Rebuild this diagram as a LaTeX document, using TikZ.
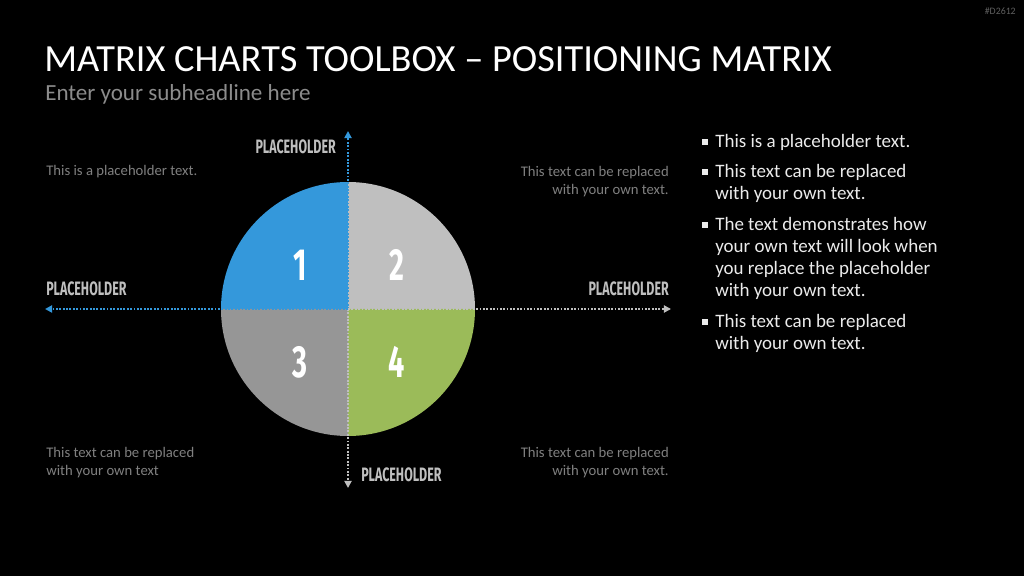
\documentclass[tikz,border=0pt]{standalone}
\usepackage{fontspec}
\setmainfont{Carlito}
\newfontfamily\condfont[FakeStretch=0.64]{Fira Sans}
\usetikzlibrary{arrows.meta, positioning}
\definecolor{cBlue}{RGB}{52,152,219}
\definecolor{cLight}{RGB}{191,191,191}
\definecolor{cMid}{RGB}{150,150,150}
\definecolor{cGreen}{RGB}{155,187,89}
\definecolor{cText}{RGB}{128,128,128}
\definecolor{cSub}{RGB}{140,140,140}
\definecolor{cTag}{RGB}{95,95,95}
\definecolor{cBody}{RGB}{235,235,235}
\tikzset{
	axislabel/.style ={font=\condfont\bfseries\fontsize{13.8}{15}\selectfont, text=cLight, inner sep=0pt},
	quadnum/.style   ={font=\condfont\bfseries\fontsize{32}{34}\selectfont, text=white, inner sep=0pt},
	cornertext/.style={font=\fontsize{10.45}{12.6}\selectfont, text=cText, inner sep=0pt},
	bodytext/.style  ={font=\fontsize{13.5}{15.7}\selectfont, text=cBody, inner sep=0pt, align=left, anchor=north west},
	bulletsq/.style  ={fill=cBody, minimum size=4.3pt, inner sep=0pt},
	% dotted axes
	axisline/.style  ={line width=1.3pt, dash pattern=on 1.3pt off 1.1pt, -{Triangle[length=5pt, width=5pt]}},
}

\begin{document}
\begin{tikzpicture}[x=0.025cm, y=-0.025cm]
	% ---------- background ----------
	\fill[black] (0,0) rectangle (1024,576);
	\useasboundingbox (0,0) rectangle (1024,576);
	% ---------- headline ----------
	\node[anchor=north east, font=\fontsize{7}{8}\selectfont, text=cTag, inner sep=0pt] (tag) at (1016,8) {\#D2612};
	\node[anchor=base west, font=\fontsize{27.3}{30}\selectfont, text=white, inner sep=0pt] (title) at (44,72) {MATRIX CHARTS TOOLBOX -- POSITIONING MATRIX};
	\node[anchor=base west, font=\fontsize{16.4}{19}\selectfont, text=cSub, inner sep=0pt] (sub) at (45,101) {Enter your subheadline here};
	% ---------- circle quadrants ----------
	\coordinate (c) at (348,309);
	\fill[cBlue]  (c) -- ++(180:127) arc[start angle=180, end angle=270, radius=127] -- cycle;
	\fill[cLight] (c) -- ++(270:127) arc[start angle=270, end angle=360, radius=127] -- cycle;
	\fill[cMid]   (c) -- ++(90:127) arc[start angle=90, end angle=180, radius=127] -- cycle;
	\fill[cGreen] (c) -- ++(0:127) arc[start angle=0, end angle=90, radius=127] -- cycle;
	\node[quadnum] (q1) at (300,265) {1};
	\node[quadnum] (q2) at (397,265) {2};
	\node[quadnum] (q3) at (300,362) {3};
	\node[quadnum] (q4) at (397,362) {4};
	% ---------- axes ----------
	\coordinate (top) at (348,131);
	\coordinate (bot) at (348,488);
	\coordinate (lft) at (45,309);
	\coordinate (rgt) at (671,309);
	\draw[axisline, cBlue]  (c) -- (top);
	\draw[axisline, cLight] (c) -- (bot);
	\draw[axisline, cBlue]  (c) -- (lft);
	\draw[axisline, cLight] (c) -- (rgt);
	\node[axislabel, anchor=base east] (ltop) at (336,154) {PLACEHOLDER};
	\node[axislabel, anchor=base west] (lbot) at (361,481) {PLACEHOLDER};
	\node[axislabel, anchor=base west] (llft) at (46,296) {PLACEHOLDER};
	\node[axislabel, anchor=base east] (lrgt) at (669,296) {PLACEHOLDER};
	% ---------- corner texts ----------
	\node[cornertext, anchor=base west] (tl) at (46,176) {This is a placeholder text.};
	\node[cornertext, anchor=north east, align=right] (tr) at (669,166) {This text can be replaced\\with your own text.};
	\node[cornertext, anchor=north west, align=left] (bl) at (46,447) {This text can be replaced\\with your own text};
	\node[cornertext, anchor=north east, align=right] (br) at (669,447) {This text can be replaced\\with your own text.};
	% ---------- bullet list ----------
	\node[bodytext] (b1) at (715,134) {This is a placeholder text.};
	\node[bodytext] (b2) at (715,164) {This text can be replaced\\with your own text.};
	\node[bodytext] (b3) at (715,217) {The text demonstrates how\\your own text will look when\\you replace the placeholder\\with your own text.};
	\node[bodytext] (b4) at (715,314) {This text can be replaced\\with your own text.};
	\foreach \yy in {142,172,225,322}
		\node[bulletsq] at (705,\yy) {};
\end{tikzpicture}
\end{document}
